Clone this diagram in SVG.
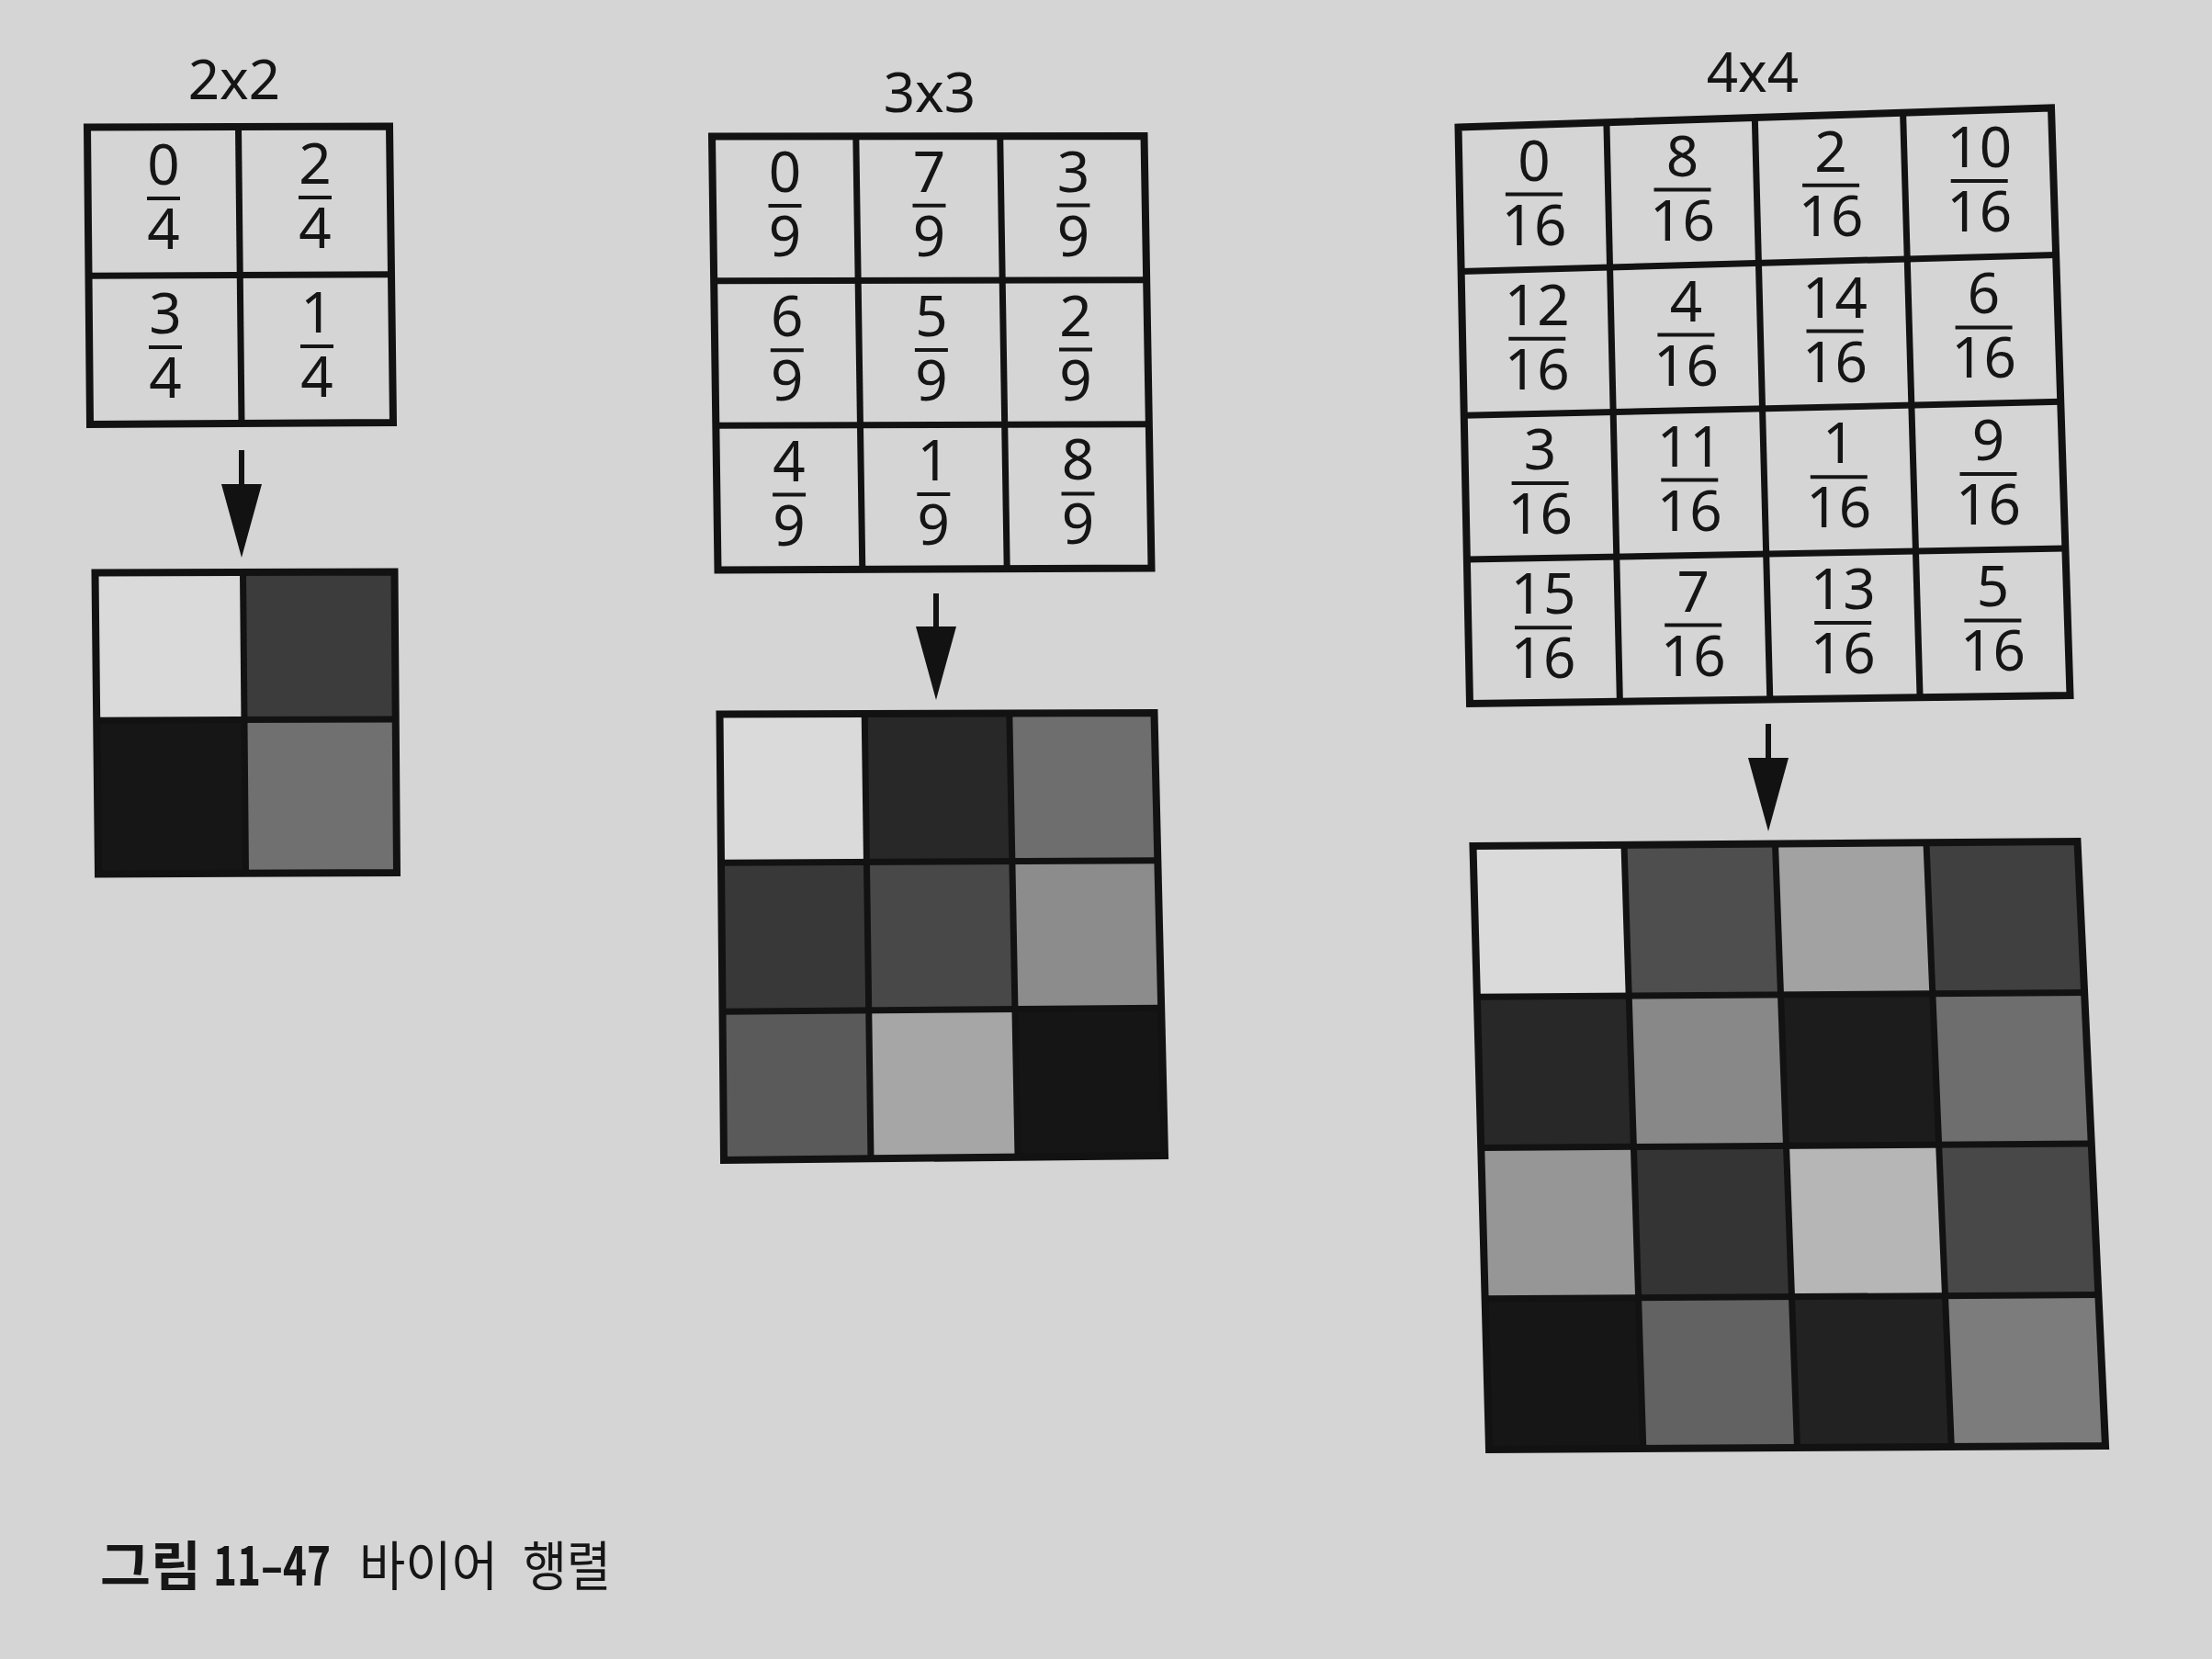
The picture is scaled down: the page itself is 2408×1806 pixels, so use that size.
<svg xmlns="http://www.w3.org/2000/svg" width="2408" height="1806" viewBox="0 0 2408 1806">
<style>
  .bg { fill: #d5d5d5; }
  .lbl { font-family: "Noto Sans", "Open Sans", sans-serif; font-size: 60px; fill: #151515; text-anchor: middle; }
  .fr text { font-family: "Noto Sans", "Open Sans", sans-serif; font-size: 62px; fill: #151515; text-anchor: middle; }
  .bar { stroke: #151515; stroke-width: 4; }
  .frame { fill: none; stroke: #121212; stroke-width: 8; stroke-linejoin: miter; }
  .inner { stroke: #121212; stroke-width: 7; }
  .conn { stroke: #121212; stroke-width: 6; fill: none; }
  .cap { font-family: "Noto Sans CJK KR", "Noto Sans", sans-serif; font-size: 58px; fill: #161616; }
  .capb { font-weight: 700; }
  .c0 { fill: #dadada; }
</style>
<defs>
  <marker id="ah" markerUnits="userSpaceOnUse" markerWidth="80" markerHeight="44" viewBox="0 -22 80 44" refX="1" refY="0" orient="auto">
    <path d="M0,-22 L80,0 L0,22 Z" fill="#121212"/>
  </marker>
</defs>
<rect class="bg" x="0" y="0" width="2408" height="1806"/>

<!-- 2x2 threshold matrix -->
<g id="m2">
  <text class="lbl" x="255" y="108">2x2</text>
  <polygon class="frame" points="95,138.5 424,137.5 428,460 98,462"/>
  <line class="inner" x1="259.5" y1="138" x2="263" y2="461"/>
  <line class="inner" x1="96.5" y1="300.3" x2="426" y2="298.8"/>
  <g class="fr">
    <g transform="translate(178,216)"><text y="-15">0</text><line class="bar" x1="-18" x2="18" y1="0" y2="0"/><text y="55">4</text></g>
    <g transform="translate(343,215)"><text y="-15">2</text><line class="bar" x1="-18" x2="18" y1="0" y2="0"/><text y="55">4</text></g>
    <g transform="translate(180,378)"><text y="-15">3</text><line class="bar" x1="-18" x2="18" y1="0" y2="0"/><text y="55">4</text></g>
    <g transform="translate(345,377)"><text y="-15">1</text><line class="bar" x1="-18" x2="18" y1="0" y2="0"/><text y="55">4</text></g>
  </g>
</g>

<!-- 2x2 result -->
<g id="s2">
  <polygon class="c0" points="103.5,623.5 264.5,623 266,783.6 105.2,784.2"/>
  <polygon fill="#3c3c3c" points="264.5,623 429.5,622.5 430.7,782.9 266,783.6"/>
  <polygon fill="#161616" points="105.2,784.2 266,783.6 267.5,950.8 107,951.5"/>
  <polygon fill="#707070" points="266,783.6 430.7,782.9 432,950 267.5,950.8"/>
  <line class="inner" x1="264.5" y1="623" x2="267.5" y2="950.8"/>
  <line class="inner" x1="105.2" y1="784.2" x2="430.7" y2="782.9"/>
  <polygon class="frame" points="103.5,623.5 429.5,622.5 432,950 107,951.5"/>
</g>

<!-- 3x3 threshold matrix -->
<g id="m3">
  <text class="lbl" x="1012" y="122">3x3</text>
  <polygon class="frame" points="775,148.5 1245.5,148 1253.5,618.5 781.5,620.5"/>
  <line class="inner" x1="931.8" y1="148.3" x2="938.8" y2="619.8"/>
  <line class="inner" x1="1088.7" y1="148.2" x2="1096.2" y2="619.2"/>
  <line class="inner" x1="777.2" y1="305.8" x2="1248.2" y2="304.8"/>
  <line class="inner" x1="779.3" y1="463.2" x2="1250.8" y2="461.7"/>
  <g class="fr">
    <g transform="translate(854.5,224)"><text y="-15">0</text><line class="bar" x1="-18" x2="18" y1="0" y2="0"/><text y="55">9</text></g>
    <g transform="translate(1011.5,223.8)"><text y="-15">7</text><line class="bar" x1="-18" x2="18" y1="0" y2="0"/><text y="55">9</text></g>
    <g transform="translate(1168.4,223.6)"><text y="-15">3</text><line class="bar" x1="-18" x2="18" y1="0" y2="0"/><text y="55">9</text></g>
    <g transform="translate(856.8,381.3)"><text y="-15">6</text><line class="bar" x1="-18" x2="18" y1="0" y2="0"/><text y="55">9</text></g>
    <g transform="translate(1013.9,380.9)"><text y="-15">5</text><line class="bar" x1="-18" x2="18" y1="0" y2="0"/><text y="55">9</text></g>
    <g transform="translate(1171,380.5)"><text y="-15">2</text><line class="bar" x1="-18" x2="18" y1="0" y2="0"/><text y="55">9</text></g>
    <g transform="translate(859.1,538.6)"><text y="-15">4</text><line class="bar" x1="-18" x2="18" y1="0" y2="0"/><text y="55">9</text></g>
    <g transform="translate(1016.3,538)"><text y="-15">1</text><line class="bar" x1="-18" x2="18" y1="0" y2="0"/><text y="55">9</text></g>
    <g transform="translate(1173.5,537.4)"><text y="-15">8</text><line class="bar" x1="-18" x2="18" y1="0" y2="0"/><text y="55">9</text></g>
  </g>
</g>

<!-- 3x3 result -->
<g id="s3">
  <polygon class="c0" points="783.5,777.5 941.2,777 943.5,938.4 785,939.3"/>
  <polygon fill="#282828" points="941.2,777 1098.8,776.5 1101.9,937.6 943.5,938.4"/>
  <polygon fill="#6e6e6e" points="1098.8,776.5 1256.5,776 1260.3,936.7 1101.9,937.6"/>
  <polygon fill="#383838" points="785,939.3 943.5,938.4 945.8,1099.9 786.5,1101.2"/>
  <polygon fill="#484848" points="943.5,938.4 1101.9,937.6 1104.9,1098.6 945.8,1099.9"/>
  <polygon fill="#8c8c8c" points="1101.9,937.6 1260.3,936.7 1264.2,1097.3 1104.9,1098.6"/>
  <polygon fill="#5a5a5a" points="786.5,1101.2 945.8,1099.9 948,1261.3 788,1263"/>
  <polygon fill="#a6a6a6" points="945.8,1099.9 1104.9,1098.6 1108,1259.7 948,1261.3"/>
  <polygon fill="#151515" points="1104.9,1098.6 1264.2,1097.3 1268,1258 1108,1259.7"/>
  <line class="inner" x1="941.2" y1="777" x2="948" y2="1261.3"/>
  <line class="inner" x1="1098.8" y1="776.5" x2="1108" y2="1259.7"/>
  <line class="inner" x1="785" y1="939.3" x2="1260.3" y2="936.7"/>
  <line class="inner" x1="786.5" y1="1101.2" x2="1264.2" y2="1097.3"/>
  <polygon class="frame" points="783.5,777.5 1256.5,776 1268,1258 788,1263"/>
</g>

<!-- 4x4 threshold matrix -->
<g id="m4">
  <text class="lbl" x="1908" y="100">4x4</text>
  <polygon class="frame" points="1587.5,138.5 2233,117.5 2253.5,757 1600,766"/>
  <line class="inner" x1="1748.9" y1="133.3" x2="1763.4" y2="763.8"/>
  <line class="inner" x1="1910.3" y1="128" x2="1926.8" y2="761.5"/>
  <line class="inner" x1="2071.6" y1="122.8" x2="2090.1" y2="759.3"/>
  <line class="inner" x1="1590.6" y1="295.4" x2="2238.1" y2="277.4"/>
  <line class="inner" x1="1593.8" y1="452.3" x2="2243.3" y2="437.3"/>
  <line class="inner" x1="1596.9" y1="609.1" x2="2248.4" y2="597.1"/>
  <g class="fr">
    <g transform="translate(1669.9,211.5)"><text y="-15">0</text><line class="bar" x1="-31" x2="31" y1="0" y2="0"/><text y="55">16</text></g>
    <g transform="translate(1831.5,206.6)"><text y="-15">8</text><line class="bar" x1="-31" x2="31" y1="0" y2="0"/><text y="55">16</text></g>
    <g transform="translate(1993.1,201.8)"><text y="-15">2</text><line class="bar" x1="-31" x2="31" y1="0" y2="0"/><text y="55">16</text></g>
    <g transform="translate(2154.7,196.9)"><text y="-15">10</text><line class="bar" x1="-31" x2="31" y1="0" y2="0"/><text y="55">16</text></g>
    <g transform="translate(1673.3,368.8)"><text y="-15">12</text><line class="bar" x1="-31" x2="31" y1="0" y2="0"/><text y="55">16</text></g>
    <g transform="translate(1835.4,364.6)"><text y="-15">4</text><line class="bar" x1="-31" x2="31" y1="0" y2="0"/><text y="55">16</text></g>
    <g transform="translate(1997.5,360.5)"><text y="-15">14</text><line class="bar" x1="-31" x2="31" y1="0" y2="0"/><text y="55">16</text></g>
    <g transform="translate(2159.6,356.4)"><text y="-15">6</text><line class="bar" x1="-31" x2="31" y1="0" y2="0"/><text y="55">16</text></g>
    <g transform="translate(1676.6,526)"><text y="-15">3</text><line class="bar" x1="-31" x2="31" y1="0" y2="0"/><text y="55">16</text></g>
    <g transform="translate(1839.3,522.6)"><text y="-15">11</text><line class="bar" x1="-31" x2="31" y1="0" y2="0"/><text y="55">16</text></g>
    <g transform="translate(2001.8,519.3)"><text y="-15">1</text><line class="bar" x1="-31" x2="31" y1="0" y2="0"/><text y="55">16</text></g>
    <g transform="translate(2164.5,515.9)"><text y="-15">9</text><line class="bar" x1="-31" x2="31" y1="0" y2="0"/><text y="55">16</text></g>
    <g transform="translate(1680,683.3)"><text y="-15">15</text><line class="bar" x1="-31" x2="31" y1="0" y2="0"/><text y="55">16</text></g>
    <g transform="translate(1843.2,680.6)"><text y="-15">7</text><line class="bar" x1="-31" x2="31" y1="0" y2="0"/><text y="55">16</text></g>
    <g transform="translate(2006.2,678)"><text y="-15">13</text><line class="bar" x1="-31" x2="31" y1="0" y2="0"/><text y="55">16</text></g>
    <g transform="translate(2169.4,675.4)"><text y="-15">5</text><line class="bar" x1="-31" x2="31" y1="0" y2="0"/><text y="55">16</text></g>
  </g>
</g>

<!-- 4x4 result -->
<g id="s4">
  <polygon class="c0" points="1603.5,921 1768,919.8 1773.2,1084.1 1607.9,1085.3"/>
  <polygon fill="#4e4e4e" points="1768,919.8 1932.5,918.5 1938.5,1082.9 1773.2,1084.1"/>
  <polygon fill="#a2a2a2" points="1932.5,918.5 2097,917.3 2103.8,1081.7 1938.5,1082.9"/>
  <polygon fill="#404040" points="2097,917.3 2261.5,916 2269.1,1080.5 2103.8,1081.7"/>
  <polygon fill="#282828" points="1607.9,1085.3 1773.2,1084.1 1778.4,1248.4 1612.3,1249.5"/>
  <polygon fill="#888888" points="1773.2,1084.1 1938.5,1082.9 1944.5,1247.3 1778.4,1248.4"/>
  <polygon fill="#1c1c1c" points="1938.5,1082.9 2103.8,1081.7 2110.6,1246.1 1944.5,1247.3"/>
  <polygon fill="#6e6e6e" points="2103.8,1081.7 2269.1,1080.5 2276.8,1245 2110.6,1246.1"/>
  <polygon fill="#969696" points="1612.3,1249.5 1778.4,1248.4 1783.6,1412.7 1616.6,1413.8"/>
  <polygon fill="#343434" points="1778.4,1248.4 1944.5,1247.3 1950.5,1411.6 1783.6,1412.7"/>
  <polygon fill="#b6b6b6" points="1944.5,1247.3 2110.6,1246.1 2117.4,1410.6 1950.5,1411.6"/>
  <polygon fill="#484848" points="2110.6,1246.1 2276.8,1245 2284.4,1409.5 2117.4,1410.6"/>
  <polygon fill="#161616" points="1616.6,1413.8 1783.6,1412.7 1788.8,1577 1621,1578"/>
  <polygon fill="#626262" points="1783.6,1412.7 1950.5,1411.6 1956.5,1576 1788.8,1577"/>
  <polygon fill="#222222" points="1950.5,1411.6 2117.4,1410.6 2124.3,1575 1956.5,1576"/>
  <polygon fill="#7c7c7c" points="2117.4,1410.6 2284.4,1409.5 2292,1574 2124.3,1575"/>
  <line class="inner" x1="1768" y1="919.8" x2="1788.8" y2="1577"/>
  <line class="inner" x1="1932.5" y1="918.5" x2="1956.5" y2="1576"/>
  <line class="inner" x1="2097" y1="917.3" x2="2124.3" y2="1575"/>
  <line class="inner" x1="1607.9" y1="1085.3" x2="2269.1" y2="1080.5"/>
  <line class="inner" x1="1612.3" y1="1249.5" x2="2276.8" y2="1245"/>
  <line class="inner" x1="1616.6" y1="1413.8" x2="2284.4" y2="1409.5"/>
  <polygon class="frame" points="1603.5,921 2261.5,916 2292,1574 1621,1578"/>
</g>

<!-- connectors -->
<g id="connectors">
  <line class="conn" x1="263" y1="490" x2="263" y2="528" marker-end="url(#ah)"/>
  <line class="conn" x1="1019" y1="646" x2="1019" y2="683" marker-end="url(#ah)"/>
  <line class="conn" x1="1925" y1="788" x2="1925" y2="826" marker-end="url(#ah)"/>
</g>

<!-- caption -->
<g id="caption">
  <text class="cap capb" x="109" y="1726" textLength="110" lengthAdjust="spacingAndGlyphs">그림</text>
  <text class="cap capb" x="232" y="1726" font-size="64" textLength="128" lengthAdjust="spacingAndGlyphs">11–47</text>
  <text class="cap" x="391" y="1726" textLength="151" lengthAdjust="spacingAndGlyphs">바이어</text>
  <text class="cap" x="569" y="1726" textLength="96" lengthAdjust="spacingAndGlyphs">행렬</text>
</g>
</svg>
